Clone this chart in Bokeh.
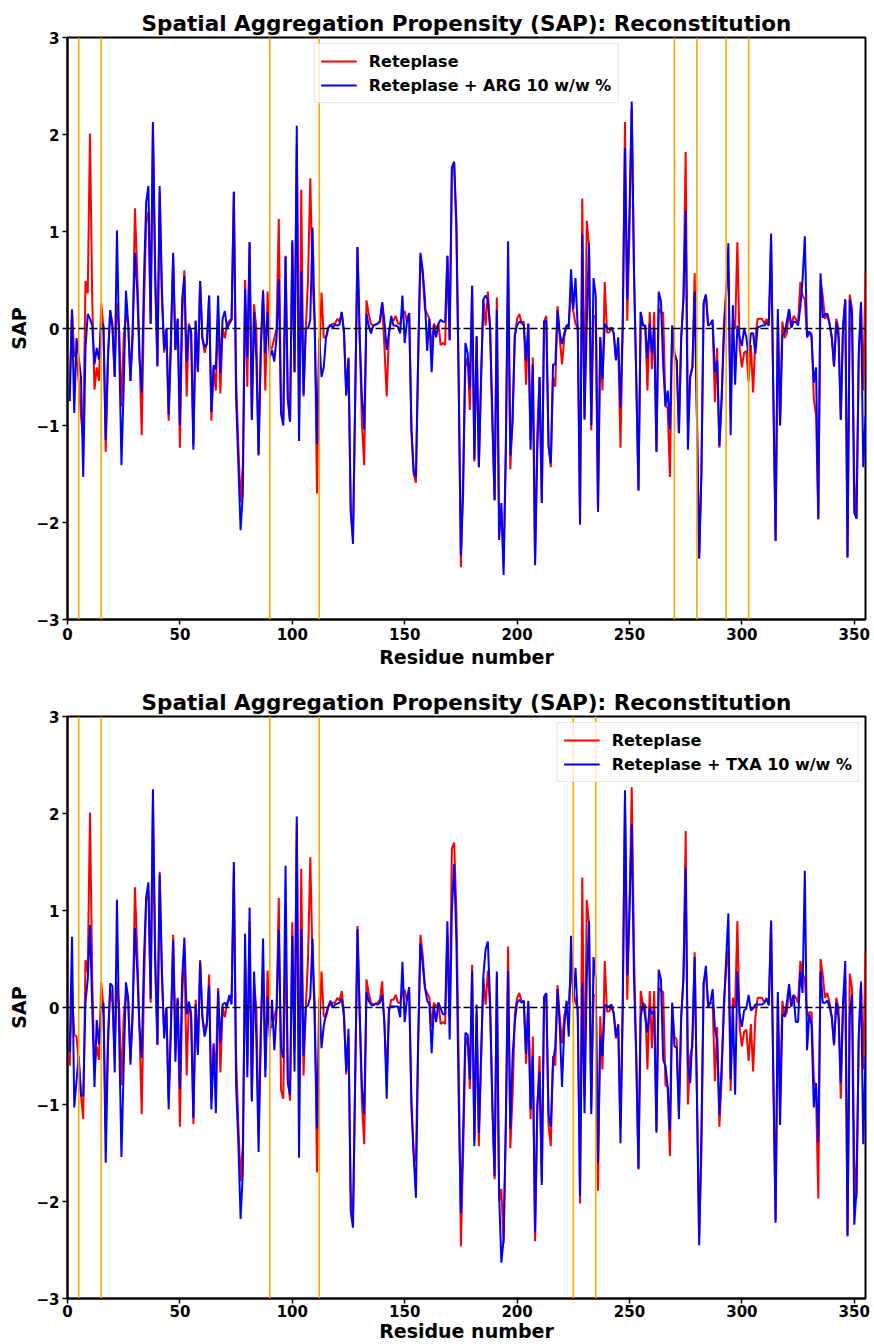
from bokeh.plotting import figure
from bokeh.models import Range1d, FixedTicker, Span
from bokeh.layouts import column
from bokeh.embed import file_html
from bokeh.resources import INLINE

# ---------------- data ----------------
residues = list(range(1, 356))

reteplase = [
    -0.6, 0.2, -0.28, -0.3, -0.55, -0.9, -1.15, 0.49, 0.36, 2.01,
    0.3, -0.63, -0.4, -0.54, 0.26, 0.0, -1.27, -0.3, 0.19, 0.05,
    -0.5, 0.26, 0.0, -0.8, -0.1, 0.15, 0.05, -0.54, -0.1, 1.24,
    0.6, -0.2, -1.1, 0.2, 1.1, 1.2, 0.05, 2.1, 0.5, -0.39,
    1.4, 0.3, -0.25, 0.0, -0.95, -0.2, 0.75, -0.22, 0.1, -1.23,
    0.1, 0.6, -0.7, 0.05, -0.05, -1.2, 0.08, -0.45, 0.49, -0.1,
    -0.25, -0.15, 0.34, -0.95, -0.4, -0.64, 0.2, -0.67, 0.0, -0.1,
    0.05, 0.08, 0.1, 1.41, -0.5, -1.2, -1.79, -1.4, 0.5, -0.6,
    0.89, -0.94, 0.25, 0.0, -1.3, -0.2, 0.4, -0.64, 0.38, -0.2,
    -0.2, -0.1, 0.0, 1.13, -0.85, -0.94, 0.75, -0.72, -0.96, 0.88,
    -0.45, 1.9, -1.0, 1.43, -0.7, 0.0, 0.5, 1.55, 0.5, 0.05,
    -1.7, -0.3, 0.37, -0.09, -0.1, 0.0, 0.03, 0.05, 0.05, 0.1,
    0.07, 0.17, -0.05, -0.69, -0.3, -1.9, -2.15, -0.7, 0.84, -0.1,
    -1.0, -1.41, 0.29, 0.15, 0.05, 0.03, 0.04, 0.05, 0.08, 0.27,
    -0.2, -0.7, -0.05, 0.08, 0.08, 0.13, 0.05, 0.05, 0.15, 0.18,
    0.07, 0.16, -1.04, -1.5, -1.59, -0.3, 0.75, 0.55, 0.2, 0.15,
    0.1, -0.2, 0.05, 0.0, 0.05, -0.17, -0.15, -0.17, 0.75, -0.12,
    1.64, 1.7, 1.0, -0.5, -2.46, -1.5, -0.4, -0.3, -0.84, 0.44,
    -1.37, -0.08, -1.43, -0.5, 0.3, 0.03, 0.38, 0.0, -1.0, -1.77,
    0.32, -2.0, -1.87, -2.43, -1.2, 0.63, -1.45, -0.9, -0.07, 0.1,
    0.15, 0.06, 0.07, -0.58, 0.05, -1.15, -0.3, -2.41, -1.05, -0.5,
    -1.8, 0.07, 0.13, -1.21, -1.43, -0.5, -0.6, 0.23, -0.1, -0.37,
    -0.09, 0.03, 0.05, 0.4, 0.18, 0.05, 0.0, -2.02, 1.34, -0.92,
    1.11, 0.86, -1.05, 0.13, 0.12, -1.89, -0.09, -0.64, 0.48, -0.04,
    -0.04, 0.01, -0.05, -0.32, -0.17, -1.23, 0.03, 2.13, 0.08, 1.0,
    2.27, 0.6, -0.5, -1.67, 0.17, 0.03, 0.03, -0.64, 0.17, -0.42,
    0.17, -1.27, 0.2, 0.17, 0.16, -0.8, -0.82, -1.53, 0.03, -0.3,
    -0.33, -1.08, -0.1, 0.3, 1.82, -1.0, -0.5, -0.4, 0.57, -0.9,
    -2.37, -1.5, 0.26, 0.35, 0.03, 0.05, 0.05, -0.76, -0.2, -1.23,
    -0.72, 0.05, 0.4, 0.6, -0.86, 0.1, 0.0, 0.89, -0.2, -0.4,
    -0.25, -0.23, -0.55, -0.17, -0.66, -0.1, 0.1, 0.1, 0.1, 0.05,
    0.1, 0.03, 0.9, -0.68, -2.19, 0.1, -1.0, 0.07, -0.1, -0.05,
    0.2, 0.01, 0.13, 0.1, 0.05, 0.48, 0.34, 0.3, -0.09, -0.05,
    -0.05, -0.72, -0.9, -1.97, 0.5, 0.33, 0.1, 0.15, 0.05, -0.09,
    -0.39, 0.1, 0.0, -0.94, 0.0, 0.3, -2.36, 0.35, 0.2, -1.55,
    -1.96, -0.3, 0.27, -0.64, 0.58,
]

reteplase_arg = [
    -0.75, 0.19, -0.87, -0.1, -0.3, -0.5, -1.53, -0.2, 0.15, 0.1,
    0.03, -0.37, -0.2, -0.32, 0.05, 0.03, -1.15, -0.3, 0.19, 0.0,
    -0.5, 1.01, -0.2, -1.41, -0.6, 0.39, 0.05, -0.54, 0.0, 0.78,
    0.4, -0.3, -0.66, 0.5, 1.3, 1.47, 0.05, 2.13, 0.6, -0.39,
    1.47, 0.4, -0.22, 0.0, -0.89, -0.1, 0.78, -0.22, 0.1, -1.0,
    0.3, 0.54, -0.34, 0.03, -0.03, -1.25, 0.08, -0.44, 0.49, -0.1,
    -0.19, -0.16, 0.34, -0.86, -0.38, -0.42, 0.34, -0.46, 0.1, 0.18,
    0.0, 0.05, 0.09, 1.41, -0.72, -1.4, -2.08, -1.7, 0.41, -0.3,
    0.89, -0.94, 0.17, -0.3, -1.31, -0.2, 0.38, -0.26, 0.17, -0.3,
    -0.22, -0.34, -0.09, 0.51, -0.88, -1.0, 0.74, -0.72, -0.96, 0.91,
    -0.45, 2.09, -1.16, 0.59, -0.68, 0.0, 0.0, 0.09, 1.04, 0.0,
    -1.19, -0.1, -0.5, -0.4, -0.09, 0.01, 0.04, 0.01, 0.04, 0.03,
    0.04, 0.17, -0.03, -0.69, -0.31, -1.87, -2.22, -0.7, 0.84, -0.1,
    -0.72, -1.04, 0.15, 0.03, -0.05, 0.03, 0.04, 0.05, 0.07, 0.27,
    0.07, -0.22, -0.05, 0.13, 0.03, 0.03, 0.02, -0.05, 0.34, -0.15,
    0.07, 0.16, -1.04, -1.47, -1.53, -0.3, 0.78, 0.6, 0.3, -0.23,
    0.1, -0.45, 0.03, -0.09, 0.05, 0.09, 0.07, 0.07, 0.75, -0.12,
    1.66, 1.72, 1.1, -0.5, -2.34, -1.7, -0.15, -0.25, -0.62, 0.44,
    -1.35, -0.08, -1.43, -0.5, 0.3, 0.34, 0.3, 0.0, -0.88, -1.77,
    0.19, -2.18, -1.8, -2.54, -1.27, 0.9, -1.31, -0.96, -0.07, 0.03,
    0.07, 0.06, 0.03, -0.33, 0.05, -1.25, -0.37, -2.44, -1.27, -0.5,
    -1.8, 0.07, 0.08, -1.21, -1.39, -0.37, -0.37, 0.19, -0.05, -0.16,
    -0.05, 0.03, 0.01, 0.61, 0.2, 0.52, -0.01, -2.02, 0.97, -0.94,
    0.03, 0.88, -1.0, 0.52, 0.34, -1.89, -0.09, -0.52, 0.05, 0.01,
    -0.01, 0.01, -0.05, -0.33, -0.09, -0.82, 0.03, 1.86, 0.3, 1.2,
    2.34, 0.6, -0.5, -1.67, 0.17, 0.03, 0.03, -0.31, 0.05, -0.25,
    0.0, -1.27, 0.38, 0.28, -0.37, -0.8, -0.64, -1.04, 0.03, -0.25,
    -0.33, -1.08, -0.1, 0.3, 1.21, -1.25, -0.5, -0.4, 0.38, -0.9,
    -2.37, -1.5, 0.26, 0.35, 0.03, 0.05, 0.09, -0.45, -0.33, -1.21,
    -0.72, -0.09, 0.34, 0.88, -1.1, 0.24, -0.58, 0.03, -0.09, -0.18,
    0.0, -0.09, -0.3, -0.05, -0.05, -0.26, 0.01, 0.02, 0.03, 0.03,
    0.06, 0.03, 0.98, -0.68, -2.19, 0.2, -1.0, -0.07, -0.05, 0.07,
    0.2, 0.01, 0.07, 0.07, 0.03, 0.22, 0.5, 0.95, -0.09, -0.03,
    -0.09, -0.56, -0.4, -1.96, 0.57, 0.11, 0.15, 0.15, 0.05, -0.09,
    -0.39, 0.07, -0.09, -0.94, 0.03, 0.3, -2.36, 0.3, 0.15, -1.9,
    -1.96, -0.25, 0.27, -1.43, -0.9,
]

reteplase_txa = [
    -0.46, 0.73, -1.03, -0.76, -0.5, -0.91, -0.91, 0.05, 0.29, 0.85,
    0.0, -0.82, -0.13, -0.38, -0.06, 0.05, -1.6, -0.4, 0.25, 0.22,
    -0.67, 1.11, -0.3, -1.54, -0.6, 0.26, 0.1, -0.59, 0.0, 0.82,
    0.4, -0.2, -0.52, 0.5, 1.14, 1.29, 0.09, 2.25, 0.5, -0.38,
    1.37, 0.4, -0.32, 0.0, -1.05, -0.2, 0.69, -0.56, 0.09, -0.84,
    0.3, 0.72, -0.07, 0.06, -0.1, -1.14, 0.03, -0.49, 0.47, -0.1,
    -0.3, -0.18, 0.23, -1.05, -0.37, -1.09, 0.17, -0.36, 0.03, 0.05,
    0.01, 0.13, 0.03, 1.5, -0.8, -1.4, -2.18, -1.7, 0.76, -0.72,
    1.03, -0.97, 0.37, -0.3, -1.49, -0.3, 0.71, -0.72, 0.11, -0.3,
    0.08, -0.44, -0.05, 0.8, -0.42, -0.52, 1.46, -0.78, -0.9, 0.74,
    -0.66, 1.97, -1.55, 0.81, -0.5, 0.0, 0.02, 0.11, 0.71, -0.2,
    -1.25, 0.1, -0.42, -0.19, -0.07, 0.01, 0.07, 0.0, 0.03, 0.04,
    0.05, 0.09, -0.1, -0.66, -0.22, -2.1, -2.27, -0.7, 0.81, -0.07,
    -0.83, -1.1, 0.16, 0.07, 0.03, 0.02, 0.04, 0.03, 0.05, 0.13,
    -0.15, -0.94, -0.01, 0.01, 0.01, 0.01, 0.01, -0.1, 0.47, -0.15,
    0.09, 0.21, -0.97, -1.53, -1.96, -0.38, 0.66, 0.45, 0.21, 0.07,
    0.03, -0.47, 0.01, -0.15, 0.05, -0.01, -0.07, -0.07, 0.89, -0.33,
    1.0, 1.48, 0.7, -0.9, -2.12, -1.3, -0.26, -0.28, -0.74, 0.38,
    -1.43, 0.03, -1.29, -0.5, 0.33, 0.6, 0.68, 0.05, -1.01, -1.74,
    0.37, -1.92, -2.63, -2.39, -1.2, 0.38, -1.25, -0.5, -0.15, 0.05,
    0.08, 0.05, 0.07, -0.48, 0.07, -1.05, -0.5, -2.32, -1.01, -0.66,
    -1.83, 0.11, 0.15, -1.11, -1.23, -0.56, -0.4, 0.19, -0.2, -0.82,
    -0.2, 0.07, -0.3, 0.74, 0.05, 0.41, -0.1, -1.94, 0.25, -1.09,
    0.3, 0.89, -1.1, 0.52, 0.3, -1.6, -0.3, -0.5, 0.03, 0.01,
    0.01, 0.03, -0.07, -0.3, -0.18, -1.4, 0.0, 2.24, 0.33, 1.0,
    1.89, 0.3, -0.5, -1.66, -0.1, 0.05, -0.1, -0.26, 0.01, -0.07,
    -0.03, -1.29, 0.39, 0.29, -0.54, -0.6, -0.82, -1.27, 0.05, -0.4,
    -0.41, -1.15, -0.1, 0.29, 1.44, -0.6, -0.78, -0.3, 0.52, -0.9,
    -2.45, -1.3, 0.25, 0.43, 0.0, 0.05, 0.19, -0.22, -0.34, -1.11,
    -0.6, -0.03, 0.5, 0.97, -0.74, 0.03, -0.9, 0.37, -0.07, -0.2,
    -0.03, -0.01, 0.13, -0.03, -0.01, 0.03, 0.03, 0.03, 0.03, 0.05,
    0.09, 0.02, 0.89, -0.74, -2.22, 0.16, -1.21, -0.07, -0.09, 0.05,
    0.24, 0.01, 0.13, -0.15, -0.15, 0.37, 0.15, 1.41, -0.44, -0.07,
    -0.18, -1.03, -0.78, -1.39, 0.37, 0.05, 0.05, 0.07, 0.01, -0.1,
    -0.38, 0.05, -0.1, -0.78, 0.05, 0.48, -2.35, -0.07, 0.13, -2.24,
    -1.88, -0.3, 0.25, -1.41, -0.5,
]

marks_arg = [5, 15, 90, 112, 270, 280, 293, 303]
marks_txa = [5, 15, 90, 112, 225, 235]

x_ticks = [0, 50, 100, 150, 200, 250, 300, 350]
y_ticks = [-3, -2, -1, 0, 1, 2, 3]
y_tick_labels = ["\u22123", "\u22122", "\u22121", "0", "1", "2", "3"]

title_text = "Spatial Aggregation Propensity (SAP): Reconstitution"
label_base = "Reteplase"
label_arg = "Reteplase + ARG 10 w/w %"
label_txa = "Reteplase + TXA 10 w/w %"

FONT = "DejaVu Sans"


def make_panel(blue_values, blue_label, marks, legend_loc, height, border_bottom,
               label_standoff, axis_standoff):
    p = figure(width=874, height=height, output_backend="svg", toolbar_location=None,
               x_range=Range1d(0, 355), y_range=Range1d(-3, 3),
               min_border_left=67, min_border_right=9, min_border_top=37,
               min_border_bottom=border_bottom)
    p.background_fill_color = "white"
    p.border_fill_color = "white"
    p.outline_line_color = "black"
    p.outline_line_width = 2
    p.outline_line_alpha = 1.0
    p.xgrid.visible = False
    p.ygrid.visible = False

    p.title.text = title_text
    p.title.align = "center"
    p.title.text_font = FONT
    p.title.text_font_size = "21.5px"
    p.title.text_font_style = "bold"
    p.title.text_color = "black"
    p.title.standoff = 3

    for m in marks:
        p.add_layout(Span(location=m, dimension="height", line_color="orange", line_width=1.6))
    p.add_layout(Span(location=0, dimension="width", line_color="black", line_width=1.6,
                      line_dash="8 3"))

    p.line(residues, reteplase, line_color="red", line_width=2, legend_label=label_base)
    p.line(residues, blue_values, line_color="blue", line_width=2, legend_label=blue_label)

    p.xaxis.ticker = FixedTicker(ticks=x_ticks)
    p.yaxis.ticker = FixedTicker(ticks=y_ticks)
    p.yaxis.major_label_overrides = {t: l for t, l in zip(y_ticks, y_tick_labels)}
    p.xaxis.axis_label = "Residue number"
    p.yaxis.axis_label = "SAP"
    for ax in (p.xaxis[0], p.yaxis[0]):
        ax.major_label_text_font = FONT
        ax.major_label_text_font_style = "bold"
        ax.major_label_text_font_size = "15px"
        ax.major_label_text_color = "black"
        ax.axis_label_text_font = FONT
        ax.axis_label_text_font_style = "bold"
        ax.axis_label_text_font_size = "19px"
        ax.axis_label_text_color = "black"
        ax.axis_line_width = 2
        ax.axis_line_color = "black"
        ax.major_tick_in = 0
        ax.major_tick_out = 5
        ax.major_tick_line_width = 1.5
        ax.major_tick_line_color = "black"
        ax.minor_tick_line_color = None
        ax.major_label_standoff = 3
        ax.axis_label_standoff = 3
    p.xaxis[0].major_label_standoff = label_standoff
    p.xaxis[0].axis_label_standoff = axis_standoff

    lg = p.legend[0]
    lg.location = legend_loc
    lg.margin = 6
    lg.padding = 6
    lg.spacing = 2
    lg.glyph_width = 36
    lg.glyph_height = 22
    lg.label_height = 22
    lg.label_standoff = 12
    lg.label_text_font = FONT
    lg.label_text_font_style = "bold"
    lg.label_text_font_size = "16px"
    lg.label_text_color = "black"
    lg.border_line_color = "#cccccc"
    lg.border_line_width = 1
    lg.background_fill_alpha = 0.8
    return p


p1 = make_panel(reteplase_arg, label_arg, marks_arg, "top_center", 679, 60, 3, 3)
p2 = make_panel(reteplase_txa, label_txa, marks_txa, "top_right", 665, 46, 1, 0)

layout = column(p1, p2, spacing=0)
open("out.html", "w").write(file_html(layout, INLINE))
